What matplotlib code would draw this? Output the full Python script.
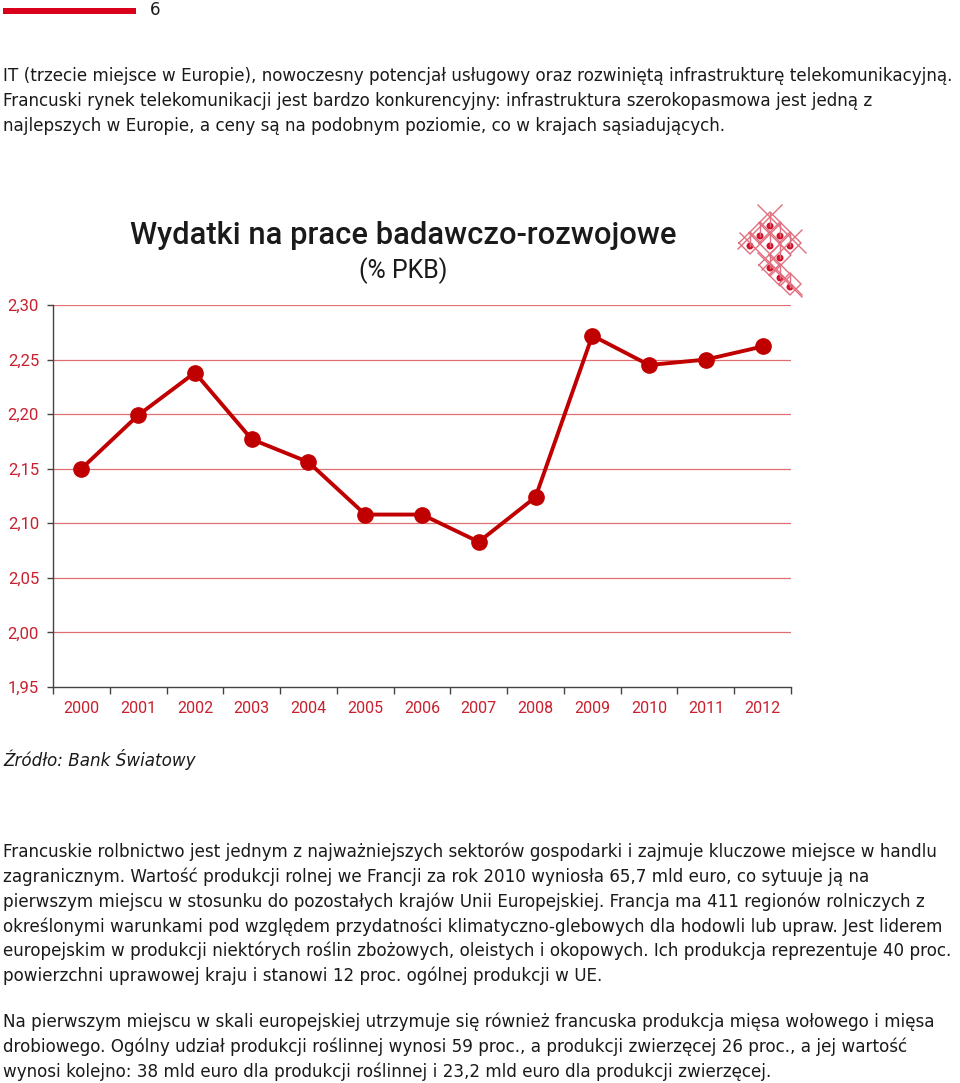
import matplotlib
matplotlib.use("Agg")
import matplotlib.pyplot as plt
from matplotlib.lines import Line2D
from matplotlib.patches import Rectangle, Ellipse

# ---- data ----
years = ["2000", "2001", "2002", "2003", "2004", "2005", "2006",
         "2007", "2008", "2009", "2010", "2011", "2012"]
rd_values = [2.150, 2.199, 2.238, 2.177, 2.156, 2.108, 2.108,
             2.083, 2.124, 2.272, 2.245, 2.250, 2.262]
y_ticks = [1.95, 2.00, 2.05, 2.10, 2.15, 2.20, 2.25, 2.30]
y_tick_labels = ["1,95", "2,00", "2,05", "2,10", "2,15", "2,20", "2,25", "2,30"]

title = "Wydatki na prace badawczo-rozwojowe"
subtitle = "(% PKB)"
source = "Źródło: Bank Światowy"
page_number = "6"
top_lines = [
    "IT (trzecie miejsce w Europie), nowoczesny potencjał usługowy oraz rozwiniętą infrastrukturę telekomunikacyjną.",
    "Francuski rynek telekomunikacji jest bardzo konkurencyjny: infrastruktura szerokopasmowa jest jedną z",
    "najlepszych w Europie, a ceny są na podobnym poziomie, co w krajach sąsiadujących.",
]
para1_lines = [
    "Francuskie rolbnictwo jest jednym z najważniejszych sektorów gospodarki i zajmuje kluczowe miejsce w handlu",
    "zagranicznym. Wartość produkcji rolnej we Francji za rok 2010 wyniosła 65,7 mld euro, co sytuuje ją na",
    "pierwszym miejscu w stosunku do pozostałych krajów Unii Europejskiej. Francja ma 411 regionów rolniczych z",
    "określonymi warunkami pod względem przydatności klimatyczno-glebowych dla hodowli lub upraw. Jest liderem",
    "europejskim w produkcji niektórych roślin zbożowych, oleistych i okopowych. Ich produkcja reprezentuje 40 proc.",
    "powierzchni uprawowej kraju i stanowi 12 proc. ogólnej produkcji w UE.",
]
para2_lines = [
    "Na pierwszym miejscu w skali europejskiej utrzymuje się również francuska produkcja mięsa wołowego i mięsa",
    "drobiowego. Ogólny udział produkcji roślinnej wynosi 59 proc., a produkcji zwierzęcej 26 proc., a jej wartość",
    "wynosi kolejno: 38 mld euro dla produkcji roślinnej i 23,2 mld euro dla produkcji zwierzęcej.",
]

W, H = 960, 1083
fig = plt.figure(figsize=(W / 100, H / 100), dpi=100)
fig.patch.set_facecolor("white")


def fx(px):
    return px / W


def fy(py):
    return 1 - py / H


body_kw = dict(family="DejaVu Sans", fontsize=12.1, color="#1a1a1a", va="center", ha="left")

# header bar and page number
fig.patches.append(Rectangle((fx(3), fy(14)), fx(133), 6 / H, transform=fig.transFigure,
                             color="#d9001b", lw=0))
fig.text(fx(150), fy(10), page_number, **body_kw)

for i, line in enumerate(top_lines):
    fig.text(fx(3), fy(76 + i * 25), line, **body_kw)

for i, line in enumerate(para1_lines):
    fig.text(fx(3), fy(852 + i * 24.8), line, **body_kw)
for i, line in enumerate(para2_lines):
    fig.text(fx(3), fy(1022 + i * 24.8), line, **body_kw)

fig.text(fx(3), fy(760), source, family="DejaVu Sans", style="italic", fontsize=12.1,
         color="#1a1a1a", va="center", ha="left")

# chart title
fig.text(fx(403), fy(235), title, family="Roboto", weight="medium", fontsize=22.2,
         color="#1a1a1a", ha="center", va="center")
fig.text(fx(403), fy(271), subtitle, family="Roboto", fontsize=18,
         color="#1a1a1a", ha="center", va="center")

# logo (diamond lattice)
logo_col = "#e07080"
dots = [(770, 226), (760, 236), (780, 236), (750, 246), (770, 246), (790, 246),
        (780, 258), (770, 268), (780, 278), (790, 287)]
for cx, cy in dots:
    s = 11
    xs = [cx - s, cx, cx + s, cx, cx - s]
    ys = [cy - 3, cy - 3 - s, cy - 3, cy - 3 + s, cy - 3]
    fig.lines.append(Line2D([fx(x) for x in xs], [fy(y) for y in ys], transform=fig.transFigure,
                            color=logo_col, lw=1.0))
    fig.lines.append(Line2D([fx(cx), fx(cx)], [fy(cy - 14), fy(cy)], transform=fig.transFigure,
                            color=logo_col, lw=1.0))
    fig.patches.append(Ellipse((fx(cx), fy(cy)), 7 / W, 7 / H, transform=fig.transFigure,
                               color="#d4102a", lw=0))
# long crossing strokes
for (x0, y0, x1, y1) in [(758, 205, 806, 253), (782, 205, 738, 249), (740, 233, 802, 295),
                         (802, 230, 762, 270), (758, 253, 802, 297)]:
    fig.lines.append(Line2D([fx(x0), fx(x1)], [fy(y0), fy(y1)], transform=fig.transFigure,
                            color=logo_col, lw=1.0))

# chart axes
ax = fig.add_axes([fx(53), fy(687), fx(791) - fx(53), fy(305) - fy(687)])
ax.set_facecolor("none")
x = list(range(len(years)))
ax.plot(x, rd_values, color="#c00000", lw=2.8, marker="o", markersize=11,
        markerfacecolor="#c00000", markeredgecolor="#c00000", zorder=3, clip_on=False)
ax.set_xlim(-0.5, len(years) - 0.5)
ax.set_ylim(1.95, 2.30)
ax.set_yticks(y_ticks)
ax.set_yticklabels(y_tick_labels)
ax.set_xticks(x)
ax.set_xticklabels(years)
ax.set_xticks([i - 0.5 for i in range(len(years) + 1)], minor=True)
for yv in y_ticks[1:]:
    ax.axhline(yv, color="#e07070", lw=0.9, zorder=1)
for side in ("top", "right"):
    ax.spines[side].set_visible(False)
for side in ("left", "bottom"):
    ax.spines[side].set_color("#444444")
    ax.spines[side].set_linewidth(1.0)
ax.tick_params(axis="x", which="major", length=0, pad=10, labelsize=11.5, labelcolor="#c8202e")
ax.tick_params(axis="x", which="minor", length=5, width=1, color="#444444", direction="out")
ax.tick_params(axis="y", length=4, width=1, color="#444444", pad=6, labelsize=12,
               labelcolor="#c8202e")
for lbl in ax.get_xticklabels() + ax.get_yticklabels():
    lbl.set_family("Roboto")

fig.savefig("out.png", dpi=100, facecolor="white")
